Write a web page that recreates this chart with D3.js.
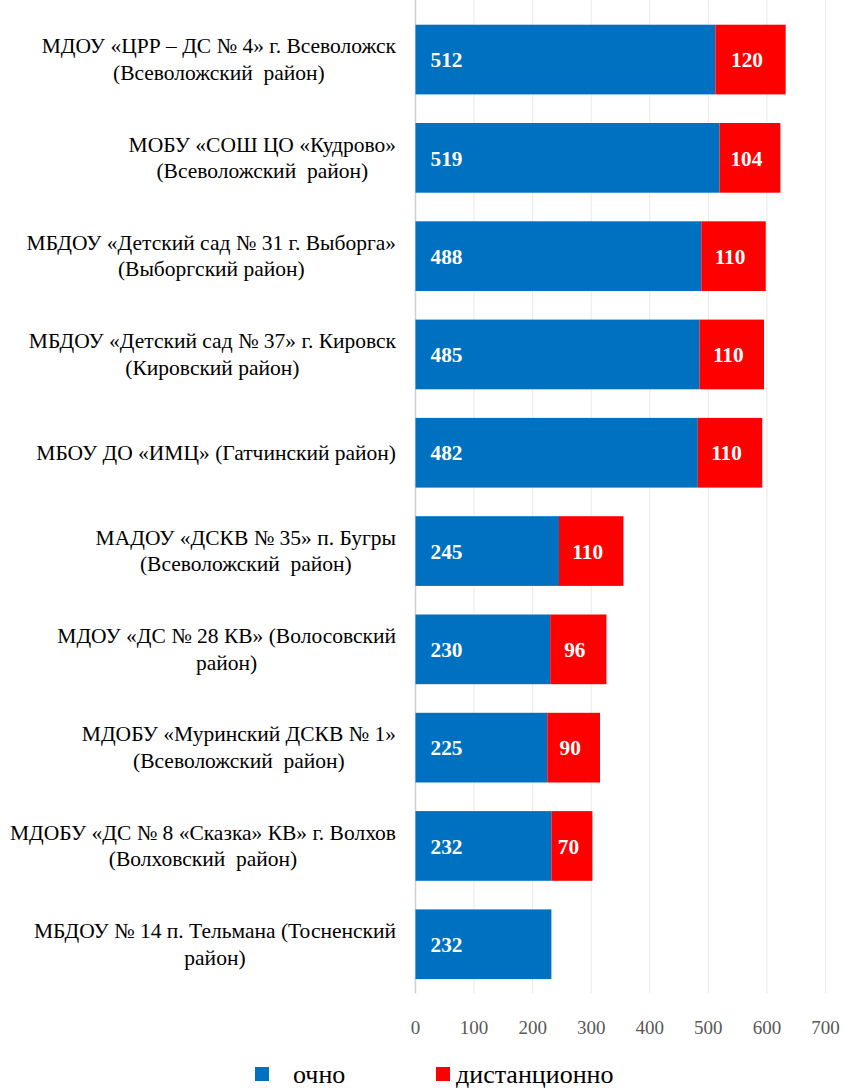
<!DOCTYPE html>
<html><head><meta charset="utf-8">
<script src="https://cdn.jsdelivr.net/npm/d3@7"></script>
<style>body{margin:0;background:#fff}svg{display:block}svg text{font-family:'Liberation Serif','Times New Roman',serif;white-space:pre}</style>
</head><body>
<svg id="c" width="845" height="1088"></svg>
<script>
const categories = [
  ["МДОУ «ЦРР – ДС № 4» г. Всеволожск", "(Всеволожский  район)"],
  ["МОБУ «СОШ ЦО «Кудрово»", "(Всеволожский  район)"],
  ["МБДОУ «Детский сад № 31 г. Выборга»", "(Выборгский район)"],
  ["МБДОУ «Детский сад № 37» г. Кировск", "(Кировский район)"],
  ["МБОУ ДО «ИМЦ» (Гатчинский район)"],
  ["МАДОУ «ДСКВ № 35» п. Бугры", "(Всеволожский  район)"],
  ["МДОУ «ДС № 28 КВ» (Волосовский", "район)"],
  ["МДОБУ «Муринский ДСКВ № 1»", "(Всеволожский  район)"],
  ["МДОБУ «ДС № 8 «Сказка» КВ» г. Волхов", "(Волховский  район)"],
  ["МБДОУ № 14 п. Тельмана (Тосненский", "район)"]
];
const ochno = [512, 519, 488, 485, 482, 245, 230, 225, 232, 232];
const distant = [120, 104, 110, 110, 110, 110, 96, 90, 70, 0];
const xTicks = [0, 100, 200, 300, 400, 500, 600, 700];
const seriesNames = ["очно", "дистанционно"];
const colors = ["#0070C0", "#FF0000"];

const svg = d3.select("#c");
const x = d3.scaleLinear().domain([0, 700]).range([415.5, 825.5]);
const y = d3.scaleBand().domain(d3.range(categories.length)).range([10.4, 993.4]).paddingInner(0.291).paddingOuter(0.1455);

svg.append("g").selectAll("line").data(xTicks).join("line")
  .attr("x1", d => x(d)).attr("x2", d => x(d))
  .attr("y1", 0).attr("y2", 993.4)
  .attr("stroke", d => d === 0 ? "#cfcfcf" : "#e8e8e8").attr("stroke-width", d => d === 0 ? 1.5 : 1);

svg.append("g").selectAll("text").data(xTicks).join("text")
  .attr("x", d => x(d)).attr("y", 1034).attr("text-anchor", "middle")
  .attr("font-size", 19).attr("fill", "#595959")
  .text(d => d);

const g = svg.append("g");
const labels = svg.append("g");
categories.forEach((c, i) => {
  const cy = y(i) + y.bandwidth() / 2;
  g.append("rect").attr("x", x(0)).attr("y", y(i)).attr("width", x(ochno[i]) - x(0)).attr("height", y.bandwidth()).attr("fill", colors[0]);
  g.append("text").attr("x", x(0) + 15).attr("y", cy + 7.7)
    .attr("font-size", 21.3).attr("font-weight", "bold").attr("fill", "#fff").text(ochno[i]);
  if (distant[i] > 0) {
    g.append("rect").attr("x", x(ochno[i])).attr("y", y(i)).attr("width", x(ochno[i] + distant[i]) - x(ochno[i])).attr("height", y.bandwidth()).attr("fill", colors[1]);
    g.append("text").attr("x", (x(ochno[i]) + x(ochno[i] + distant[i])) / 2 - 3.5).attr("y", cy + 7.7)
      .attr("text-anchor", "middle")
      .attr("font-size", 21.3).attr("font-weight", "bold").attr("fill", "#fff").text(distant[i]);
  }
  const lh = 26.5;
  const t = labels.append("text").attr("font-size", 21.5).attr("fill", "#000").attr("text-anchor", "middle");
  c.forEach((line, k) => {
    const off = (k - (c.length - 1) / 2) * lh;
    t.append("tspan").attr("x", 219).attr("y", cy + off + 7).text(line);
  });
});

labels.selectAll("text").each(function() {
  const tspans = d3.select(this).selectAll("tspan").nodes();
  let maxW = 0;
  tspans.forEach(ts => { maxW = Math.max(maxW, ts.getComputedTextLength()); });
  const cx = 396 - maxW / 2;
  tspans.forEach(ts => ts.setAttribute("x", cx));
});

const leg = svg.append("g");
leg.append("rect").attr("x", 255).attr("y", 1067).attr("width", 14).attr("height", 14).attr("fill", colors[0]);
leg.append("text").attr("x", 293).attr("y", 1083).attr("font-size", 26).attr("fill", "#000").text(seriesNames[0]);
leg.append("rect").attr("x", 436).attr("y", 1067).attr("width", 14).attr("height", 14).attr("fill", colors[1]);
leg.append("text").attr("x", 456).attr("y", 1083).attr("font-size", 26).attr("fill", "#000").text(seriesNames[1]);
</script>
</body></html>
